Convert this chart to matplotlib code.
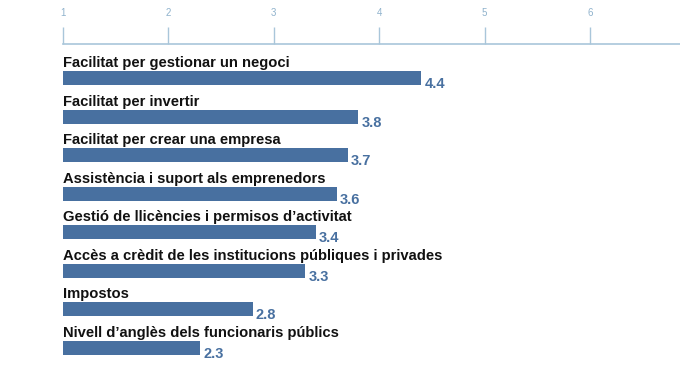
import matplotlib.pyplot as plt

# donnees du graphique
categories = ["Facilitat per gestionar un negoci",
              "Facilitat per invertir",
              "Facilitat per crear una empresa",
              "Assistència i suport als emprenedors",
              "Gestió de llicències i permisos d’activitat",
              "Accès a crèdit de les institucions públiques i privades",
              "Impostos",
              "Nivell d’anglès dels funcionaris públics"]
valeurs = [4.4, 3.8, 3.7, 3.6, 3.4, 3.3, 2.8, 2.3]
graduations = [1, 2, 3, 4, 5, 6]

bleu = "#4870a0"
bleu_clair = "#a9c6da"
plt.rcParams['font.family'] = ['Liberation Sans', 'DejaVu Sans']

fig = plt.figure(figsize=(6.8, 3.9), dpi=100)
ax = fig.add_axes([0, 0, 1, 1])

y = list(range(len(categories)))
# barres qui partent de 1
ax.barh(y, [v - 1 for v in valeurs], left=1, height=0.36, color=bleu)

for i in y:
    ax.text(1, i - 0.21, categories[i], fontsize=10.6, fontweight='bold',
            color='#111111', ha='left', va='bottom')
    ax.text(valeurs[i] + 0.03, i + 0.16, "%.1f" % valeurs[i], fontsize=10.5,
            fontweight='bold', color=bleu, ha='left', va='center')

ax.set_xlim(1 - 63 / 105.4, 1 + 617 / 105.4)
ax.set_ylim(8.1, -2.03)

# axe du haut
for s in ['left', 'right', 'bottom']:
    ax.spines[s].set_visible(False)
ax.spines['top'].set_position(('data', -0.885))
ax.spines['top'].set_bounds(1, 7)
ax.spines['top'].set_color(bleu_clair)
ax.spines['top'].set_linewidth(1.2)
ax.xaxis.set_ticks_position('top')
ax.set_xticks(graduations)
ax.set_xticklabels([str(g) for g in graduations])
ax.tick_params(axis='x', direction='out', length=12, width=1, color=bleu_clair,
               labelcolor='#8fb2cc', labelsize=7, pad=7)
ax.set_yticks([])

plt.savefig("out.png", dpi=100)
